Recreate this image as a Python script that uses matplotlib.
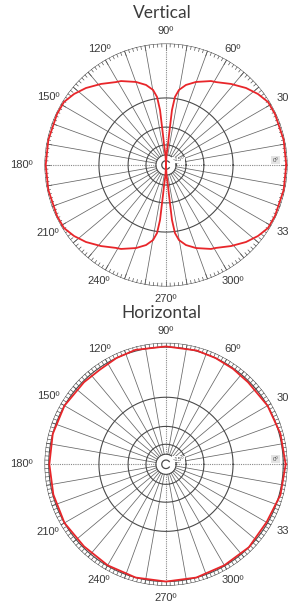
import numpy as np
import matplotlib
matplotlib.use("Agg")
import matplotlib.pyplot as plt

# ---- data (normalised radial level, 1.0 = outer ring) ----
vert_angles = [0, 12, 25, 31.7, 37.7, 43.9, 51.3, 58.9, 61.8, 70.1, 76.0, 80.2, 82.5,
               83.8, 84.3, 84.6, 87.0, 90,
               93.0, 95.4, 95.7, 96.2, 97.5, 99.8, 104.0, 109.9, 118.2, 121.1, 128.7,
               136.1, 142.3, 148.3, 155, 168,
               180, 192, 205, 211.7, 217.7, 223.9, 231.3, 238.9, 241.8, 250.1, 256.0,
               260.2, 262.5, 263.8, 264.3, 264.6, 267.0, 270,
               273.0, 275.4, 275.7, 276.2, 277.5, 279.8, 284.0, 289.9, 298.2, 301.1,
               308.7, 316.1, 322.3, 328.3, 335, 348, 360]
vert_level = [0.99, 0.99, 0.99, 0.987, 0.956, 0.914, 0.855, 0.797, 0.784, 0.727, 0.679,
              0.627, 0.565, 0.455, 0.248, 0.165, 0.083, 0.0,
              0.083, 0.165, 0.248, 0.455, 0.565, 0.627, 0.679, 0.727, 0.784, 0.797,
              0.855, 0.914, 0.956, 0.987, 0.99, 0.99,
              0.99, 0.99, 0.99, 0.987, 0.956, 0.914, 0.855, 0.797, 0.784, 0.727, 0.679,
              0.627, 0.565, 0.455, 0.248, 0.165, 0.083, 0.0,
              0.083, 0.165, 0.248, 0.455, 0.565, 0.627, 0.679, 0.727, 0.784, 0.797,
              0.855, 0.914, 0.956, 0.987, 0.99, 0.99, 0.99]

horiz_angles = [0, 15, 30, 45, 55, 65, 75, 90, 105, 115, 125, 135, 150, 165, 180, 195,
                210, 225, 240, 255, 270, 285, 300, 315, 330, 345, 360]
horiz_level = [0.985, 0.975, 0.965, 0.955, 0.96, 0.965, 0.97, 0.97, 0.975, 0.965, 0.95,
               0.955, 0.965, 0.965, 0.96, 0.96, 0.965, 0.955, 0.96, 0.965, 0.965, 0.965,
               0.96, 0.965, 0.955, 0.975, 0.985]

ring_levels = [0.083, 0.165, 0.312, 0.552, 1.0]
angle_labels = ["0º", "30º", "60º", "90º", "120º", "150º", "180º", "210º", "240º", "270º", "300º", "330º"]
label_angles = [0, 30, 60, 90, 120, 150, 180, 210, 240, 270, 300, 330]
titles = ["Vertical", "Horizontal"]

W, H = 288, 601
fig = plt.figure(figsize=(W / 100, H / 100), dpi=100)

R = 121.5
centers = [(166, 165), (166, 464.3)]
RED = "#e8262a"
full = np.linspace(0, 2 * np.pi, 721)


def draw(ax, ang, lev, band):
    ax.set_ylim(0, 1)
    ax.axis("off")
    # rings
    for r in ring_levels:
        ax.plot(full, np.full_like(full, r), color="#4a4a4a", lw=0.8, zorder=2)
    if band:
        ax.plot(full, np.full_like(full, 0.965), color="#4a4a4a", lw=0.8, zorder=2)
    # small C at centre
    arc = np.linspace(np.radians(40), np.radians(320), 100)
    ax.plot(arc, np.full_like(arc, 0.035), color="#4a4a4a", lw=0.9, zorder=2)
    # spokes
    for a in range(0, 360, 10):
        t = np.radians(a)
        if a % 90 == 0:
            ax.plot([t, t], [0.083, 1.0], color="#888888", lw=0.8, ls=(0, (1, 1)), zorder=1)
        else:
            ax.plot([t, t], [0.083, 1.0], color="#666666", lw=0.55, zorder=1)
    # ticks
    for a in range(0, 360, 2):
        t = np.radians(a)
        if band:
            ax.plot([t, t], [0.965, 1.0], color="#555555", lw=0.5, zorder=2)
        else:
            r0 = 0.955 if a % 10 == 0 else 0.972
            ax.plot([t, t], [r0, 1.0], color="#555555", lw=0.5, zorder=2)
    # angle labels
    for a, s in zip(label_angles, angle_labels):
        t = np.radians(a)
        rr = 1.1 + 0.09 * np.cos(t) ** 10
        if a == 0:
            continue
        if a in (30, 330):
            tt = np.radians(31 if a == 30 else 329)
            ax.text(tt, 1.065, s, ha="left", va="center", fontsize=8, color="#3a3a3a",
                    family="Liberation Sans")
            continue
        ax.text(t, rr, s, ha="center", va="center", fontsize=8, color="#3a3a3a",
                family="Liberation Sans")
    ax.text(np.radians(2.6), 0.9, "0º", ha="center", va="center", fontsize=4.5,
            color="#555555", family="Liberation Sans",
            bbox=dict(boxstyle="square,pad=0.25", fc="#e4e4e4", ec="none"), zorder=4)
    ax.text(np.radians(37), 0.07, "-15º", ha="left", va="center", fontsize=4.5,
            color="#555555", family="Liberation Sans",
            bbox=dict(boxstyle="square,pad=0.05", fc="white", ec="none"), zorder=4)
    # pattern
    ax.plot(np.radians(ang), lev, color=RED, lw=1.3, zorder=5, clip_on=False)


for i, (cx, cy) in enumerate(centers):
    ax = fig.add_axes([(cx - R) / W, (H - cy - R) / H, 2 * R / W, 2 * R / H],
                      projection="polar")
    if i == 0:
        draw(ax, vert_angles, vert_level, False)
    else:
        draw(ax, horiz_angles, horiz_level, True)

fig.text(162 / W, 1 - 13 / H, titles[0], ha="center", va="center", fontsize=12.5,
         family="Lato", fontweight="normal", color="#3c3c3c")
fig.text(161 / W, 1 - 313 / H, titles[1], ha="center", va="center", fontsize=12.5,
         family="Lato", fontweight="normal", color="#3c3c3c")

fig.savefig("out.png", dpi=100, facecolor="white")
